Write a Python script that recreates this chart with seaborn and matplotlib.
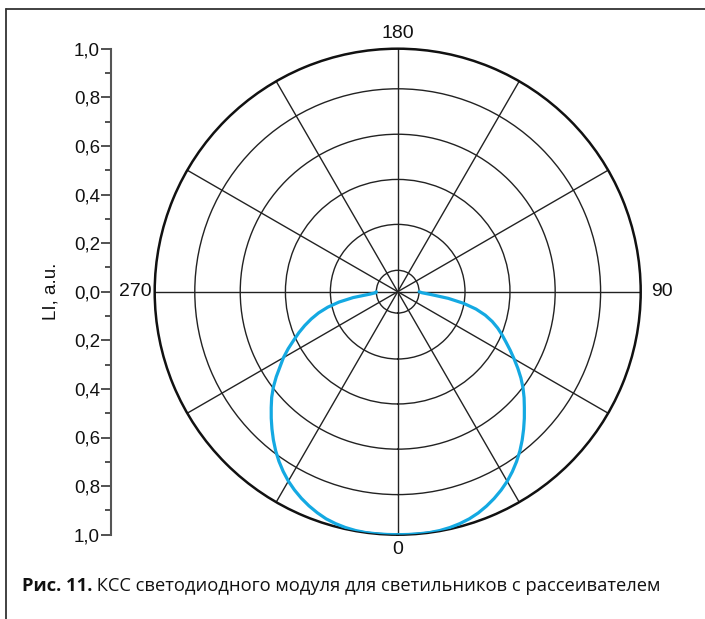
import numpy as np
import matplotlib.pyplot as plt
import matplotlib.lines as mlines
import seaborn as sns

# Light intensity curve, angles in degrees (0 = down, 90 = right, -90 = 270)
angles_deg = [-90, -87.5, -85, -82.5, -80, -77.5, -75, -72.5, -70, -67.5, -65,
              -62.5, -60, -57.5, -55, -52.5, -50, -47.5, -45, -42.5, -40, -37.5,
              -35, -32.5, -30, -27.5, -25, -22.5, -20, -17.5, -15, -12.5, -10,
              -7.5, -5, -2.5, 0, 2.5, 5, 7.5, 10, 12.5, 15, 17.5, 20, 22.5, 25,
              27.5, 30, 32.5, 35, 37.5, 40, 42.5, 45, 47.5, 50, 52.5, 55, 57.5,
              60, 62.5, 65, 67.5, 70, 72.5, 75, 77.5, 80, 82.5, 85, 87.5, 90]
intensity = [0.088, 0.090, 0.115, 0.185, 0.245, 0.295, 0.337, 0.373, 0.407,
             0.440, 0.472, 0.508, 0.543, 0.574, 0.610, 0.645, 0.677, 0.706,
             0.736, 0.766, 0.796, 0.825, 0.852, 0.877, 0.900, 0.920, 0.938,
             0.954, 0.968, 0.980, 0.988, 0.994, 0.998, 1.000, 1.000, 1.000,
             1.000, 1.000, 1.000, 1.000, 0.998, 0.994, 0.988, 0.980, 0.969,
             0.955, 0.939, 0.921, 0.901, 0.878, 0.853, 0.826, 0.797, 0.767,
             0.737, 0.707, 0.679, 0.650, 0.619, 0.586, 0.553, 0.522, 0.492,
             0.465, 0.438, 0.408, 0.373, 0.330, 0.275, 0.210, 0.140, 0.100,
             0.088]

ring_values = [0.088, 0.277, 0.462, 0.648, 0.835]
theta_major = list(range(0, 360, 30))
theta_minor = list(range(15, 360, 30))
theta_labels = {0: "0", 90: "90", 180: "180", 270: "270"}

side_ticks = [-1.0, -0.8, -0.6, -0.4, -0.2, 0.0, 0.2, 0.4, 0.6, 0.8, 1.0]
side_minor = [-0.9, -0.7, -0.5, -0.3, -0.1, 0.1, 0.3, 0.5, 0.7, 0.9]

caption_bold = "Рис. 11."
caption_rest = " КСС светодиодного модуля для светильников с рассеивателем"

sns.set_style("white")
plt.rcParams['font.family'] = ['Liberation Sans', 'DejaVu Sans']

W, H = 705, 619
fig = plt.figure(figsize=(W / 100, H / 100), dpi=100)

cx, cy, R = 397.7, 291.7, 243
ax = fig.add_axes([(cx - R) / W, (H - cy - R) / H, 2 * R / W, 2 * R / H],
                  projection='polar')
ax.set_theta_zero_location('S')
ax.set_theta_direction(1)

theta = np.deg2rad(angles_deg)
sns.lineplot(x=theta, y=intensity, ax=ax, sort=False, color='#14a9e2',
             lw=2.3, zorder=3)

ax.set_ylim(0, 1)
ax.set_yticks(ring_values)
ax.set_yticklabels([])
ax.set_xticks(np.deg2rad(theta_major))
ax.set_xticklabels([theta_labels.get(a, "") for a in theta_major])
ax.set_xticks(np.deg2rad(theta_minor), minor=True)
ax.tick_params(axis='x', which='major', labelsize=14, pad=4, length=0,
               labelcolor='#111111')
ax.tick_params(axis='x', which='minor', direction='in', length=5, width=1,
               color='#222222')
for tick, a in zip(ax.xaxis.get_major_ticks(), theta_major):
    if a == 90:
        tick.set_pad(8.5)
    elif a == 270:
        tick.set_pad(7)
ax.grid(True, color='#222222', lw=1.0)
ax.spines['polar'].set_linewidth(1.8)
ax.spines['polar'].set_color('#111111')

# side scale
ax2 = fig.add_axes([111 / W, (H - cy - R) / H, 0.001, 2 * R / H])
ax2.set_ylim(-1, 1)
for s in ['top', 'right', 'bottom']:
    ax2.spines[s].set_visible(False)
ax2.spines['left'].set_color('#555555')
ax2.spines['left'].set_linewidth(1.5)
ax2.set_xticks([])
ax2.set_yticks(side_ticks)
ax2.set_yticklabels([f"{abs(v):.1f}".replace('.', ',') for v in side_ticks])
ax2.set_yticks(side_minor, minor=True)
ax2.tick_params(axis='y', which='major', length=7, width=1.2, color='#333333',
                labelsize=13.5, pad=1, left=True, labelcolor='#111111')
ax2.tick_params(axis='y', which='minor', length=4, width=1.2, color='#333333',
                left=True)
ax2.set_ylabel("LI, a.u.", fontsize=13.5, labelpad=10, color='#111111')
ax2.patch.set_alpha(0)

# frame lines
fig.add_artist(mlines.Line2D([6 / W, 6 / W], [0, 1 - 9 / H], color='#333333', lw=1.3))
fig.add_artist(mlines.Line2D([6 / W, 1], [1 - 9 / H, 1 - 9 / H], color='#333333', lw=1.3))

# caption
cap_font = ['Open Sans', 'DejaVu Sans']
t1 = fig.text(22 / W, 1 - 586 / H, caption_bold, fontsize=13.2, fontweight='bold',
              family=cap_font, va='center', ha='left', color='#111111')
fig.canvas.draw()
bb = t1.get_window_extent()
fig.text(bb.x1 / W, 1 - 586 / H, caption_rest, fontsize=13.2, family=cap_font,
         va='center', ha='left', color='#111111')

fig.savefig('out.png', dpi=100)
